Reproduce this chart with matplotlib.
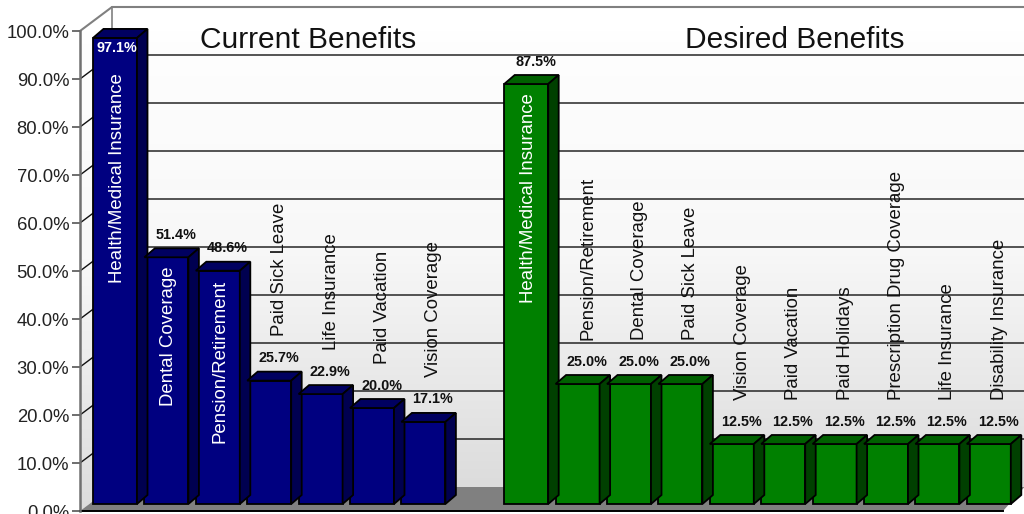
import matplotlib
matplotlib.use("Agg")
import matplotlib.pyplot as plt
from matplotlib.patches import Polygon
from matplotlib.colors import LinearSegmentedColormap
import numpy as np

plt.rcParams["font.family"] = ["Liberation Sans", "DejaVu Sans"]

current_labels = ["Health/Medical Insurance", "Dental Coverage", "Pension/Retirement",
                  "Paid Sick Leave", "Life Insurance", "Paid Vacation", "Vision Coverage"]
current_values = [97.1, 51.4, 48.6, 25.7, 22.9, 20.0, 17.1]

desired_labels = ["Health/Medical Insurance", "Pension/Retirement", "Dental Coverage",
                  "Paid Sick Leave", "Vision Coverage", "Paid Vacation", "Paid Holidays",
                  "Prescription Drug Coverage", "Life Insurance", "Disability Insurance"]
desired_values = [87.5, 25.0, 25.0, 25.0, 12.5, 12.5, 12.5, 12.5, 12.5, 12.5]

y_ticks = [0, 10, 20, 30, 40, 50, 60, 70, 80, 90, 100]
titles = ["Current Benefits", "Desired Benefits"]

W, H = 1024, 514
# pixel geometry of the fake 3D box
LEFT, BOTTOM, TOP = 80, 511, 31
SLOT = 51.4
PY = (BOTTOM - TOP) / 100  # px per percent
PX = 1 / SLOT  # slots per px
FIRST = (115 - LEFT) / SLOT  # centre of the first bar in slots
WALL_DX, WALL_DY = 32 * PX, 24 / PY
BAR_DX, BAR_DY = 10.5 * PX, 9 / PY
BASE = 7 / PY
BAR_W = 44 * PX
XMAX = (W - LEFT) / SLOT
FRONT_END = (1003 - LEFT) / SLOT

fig = plt.figure(figsize=(W / 100, H / 100), dpi=100)
ax = fig.add_axes([LEFT / W, (H - BOTTOM) / H, (W - LEFT) / W, (BOTTOM - TOP) / H])

# walls with gradient
cmap = LinearSegmentedColormap.from_list("wall", ["#ffffff", "#f8f8f8", "#dcdcdc"])
top_v = 100 + WALL_DY
grad = np.linspace(0, 1, 256).reshape(-1, 1)
img = ax.imshow(grad, extent=[0, XMAX + 1, WALL_DY, top_v], origin="upper", cmap=cmap,
                aspect="auto", zorder=0)
wall = Polygon([(WALL_DX, WALL_DY), (XMAX + 1, WALL_DY), (XMAX + 1, top_v), (WALL_DX, top_v)],
               transform=ax.transData, fill=False, lw=0)
ax.add_patch(wall)
img.set_clip_path(wall)
img2 = ax.imshow(grad, extent=[0, WALL_DX, 0, top_v], origin="upper", cmap=cmap,
                 aspect="auto", zorder=0)
side = Polygon([(0, 0), (WALL_DX, WALL_DY), (WALL_DX, top_v), (0, 100)],
               transform=ax.transData, fill=False, lw=0)
ax.add_patch(side)
img2.set_clip_path(side)

# floor
ax.add_patch(Polygon([(0, 0), (WALL_DX, WALL_DY), (XMAX + 0.01, WALL_DY), (FRONT_END, 0)],
                     facecolor="#808080", edgecolor="none", clip_on=False, zorder=1))

# gridlines on the back wall and the left wall
for v in y_ticks[1:-1]:
    ax.plot([0, WALL_DX, XMAX], [v, v + WALL_DY, v + WALL_DY], color="#111111", lw=1.0,
            clip_on=False, zorder=1)
ax.plot([0, WALL_DX, XMAX], [100, top_v, top_v], color="#808080", lw=1.5, clip_on=False, zorder=1)
ax.plot([WALL_DX, WALL_DX], [WALL_DY, top_v], color="#808080", lw=1.2, clip_on=False, zorder=1)
ax.plot([0, FRONT_END], [0, 0], color="black", lw=1.4, clip_on=False, zorder=2)


def draw_group(start, labels, values, front, top, flank):
    xs = FIRST + start + np.arange(len(values))
    ax.bar(xs, values, BAR_W, bottom=BASE, color=front, edgecolor="black", linewidth=1.3,
           zorder=3, clip_on=False)
    for x, v, name in zip(xs, values, labels):
        r = x + BAR_W / 2
        l = x - BAR_W / 2
        t = BASE + v
        ax.add_patch(Polygon([(l, t), (l + BAR_DX, t + BAR_DY), (r + BAR_DX, t + BAR_DY), (r, t)],
                             facecolor=top, edgecolor="black", lw=1.3, clip_on=False, zorder=3))
        ax.add_patch(Polygon([(r, BASE), (r + BAR_DX, BASE + BAR_DY), (r + BAR_DX, t + BAR_DY), (r, t)],
                             facecolor=flank, edgecolor="black", lw=1.3, clip_on=False, zorder=3))
        inside_value = v > 95
        value_y = t - 10 / PY if inside_value else t + 22.5 / PY
        value_x = x + (2 if inside_value else 9.5) * PX
        ax.text(value_x, value_y, f"{v:.1f}%", color="white" if inside_value else "#111111",
                fontsize=10.4, fontweight="bold", ha="center", va="center", clip_on=False, zorder=5)
        if v > 45:
            drop = 35.5 if inside_value else 9
            ax.text(x + 2 * PX, t - drop / PY, name, color="white", rotation=90, fontsize=13.4,
                    ha="center", va="top", zorder=5)
        else:
            ax.text(x + 10.5 * PX, t + 44.5 / PY, name, color="#111111", rotation=90, fontsize=13.4,
                    ha="center", va="bottom", clip_on=False, zorder=5)


draw_group(0, current_labels, current_values, "#000080", "#000060", "#000050")
draw_group(8, desired_labels, desired_values, "#008000", "#006000", "#004000")

for name, px in zip(titles, [308, 795]):
    ax.text((px - LEFT) / SLOT, (BOTTOM - 40) / PY, name, fontsize=21.5, ha="center", va="center",
            color="#111111", clip_on=False, zorder=5)

ax.set_xlim(0, XMAX)
ax.set_ylim(0, 100)
ax.set_xticks([])
ax.set_yticks(y_ticks)
ax.set_yticklabels([f"{v:.1f}%" for v in y_ticks], fontsize=13.3, color="#222222")
ax.tick_params(axis="y", length=5.8, width=1.2, color="#555555", pad=2)
for name, spine in ax.spines.items():
    spine.set_visible(name == "left")
ax.spines["left"].set_color("#707070")
ax.spines["left"].set_linewidth(1.8)
ax.patch.set_visible(False)

fig.savefig("out.png", dpi=100, facecolor="white")
